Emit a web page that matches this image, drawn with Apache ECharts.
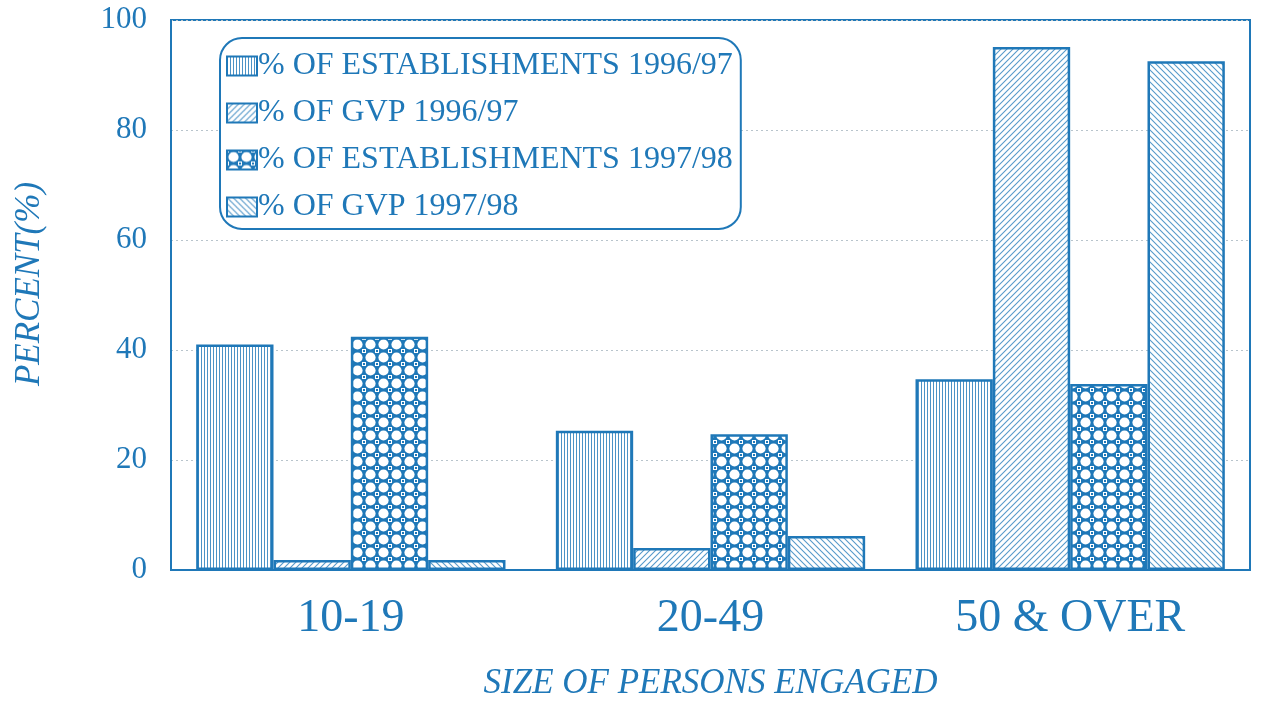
<!DOCTYPE html>
<html>
<head>
<meta charset="utf-8">
<script src="https://cdn.jsdelivr.net/npm/echarts@6/dist/echarts.min.js"></script>
<style>
  html, body { margin: 0; padding: 0; background: #fff; }
  #chart { width: 1265px; height: 701px; }
</style>
</head>
<body>
<div id="chart"></div>
<script>
// data
const categories = ['10-19', '20-49', '50 & OVER']
const estab9697 = [41, 25.3, 34.7]
const gvp9697 = [1.8, 4, 95.1]
const estab9798 = [42.4, 24.7, 33.8]
const gvp9798 = [1.8, 6.2, 92.5]
const seriesNames = [
  '% OF ESTABLISHMENTS 1996/97',
  '% OF GVP 1996/97',
  '% OF ESTABLISHMENTS 1997/98',
  '% OF GVP 1997/98'
]

const BLUE = '#1f78b8'
const FONT = '"Liberation Serif", "DejaVu Serif", serif'

// little canvas tiles for the fill patterns
const makeTile = (w, h, draw) => {
  const c = document.createElement('canvas')
  c.width = w
  c.height = h
  const ctx = c.getContext('2d')
  ctx.fillStyle = '#fff'
  ctx.fillRect(0, 0, w, h)
  draw(ctx, w, h)
  return c
}

const vLines = makeTile(3, 3, (ctx) => {
  ctx.fillStyle = 'rgba(31,120,184,0.8)'
  ctx.fillRect(0, 0, 1, 3)
})

const diag = (dir) => makeTile(6, 6, (ctx, w, h) => {
  ctx.strokeStyle = 'rgba(31,120,184,0.75)'
  ctx.lineWidth = 1.1
  ctx.beginPath()
  if (dir > 0) {
    ctx.moveTo(-1, h + 1); ctx.lineTo(w + 1, -1)
    ctx.moveTo(-1 - w, h + 1); ctx.lineTo(1, -1)
    ctx.moveTo(w - 1, h + 1); ctx.lineTo(2 * w + 1, -1)
  } else {
    ctx.moveTo(-1, -1); ctx.lineTo(w + 1, h + 1)
    ctx.moveTo(-1 - w, -1); ctx.lineTo(1, h + 1)
    ctx.moveTo(w - 1, -1); ctx.lineTo(2 * w + 1, h + 1)
  }
  ctx.stroke()
})

const dots = makeTile(13, 13, (ctx, w, h) => {
  ctx.fillStyle = BLUE
  ctx.fillRect(0, 0, w, h)
  ctx.fillStyle = '#fff'
  ctx.beginPath()
  ctx.arc(w / 2, h / 2, 5.1, 0, Math.PI * 2)
  ctx.fill()
  // small square at the corners, white ring with blue centre
  const corners = [[0, 0], [w, 0], [0, h], [w, h]]
  corners.forEach(([x, y]) => {
    ctx.fillStyle = '#fff'
    ctx.fillRect(x - 2, y - 2, 4, 4)
    ctx.fillStyle = BLUE
    ctx.fillRect(x - 1, y - 1, 2, 2)
  })
})

const patterns = [vLines, diag(1), dots, diag(-1)]
const values = [estab9697, gvp9697, estab9798, gvp9798]

const chart = echarts.init(document.getElementById('chart'))
chart.setOption({
  backgroundColor: '#fff',
  animation: false,
  textStyle: { fontFamily: FONT, color: BLUE },
  grid: {
    left: 171, right: 15, top: 20, bottom: 131,
    outerBoundsMode: 'none', containLabel: false,
    show: true, borderColor: BLUE, borderWidth: 2
  },
  legend: {
    orient: 'vertical',
    left: 220,
    top: 38,
    padding: [12, 8, 6, 6],
    itemGap: 15,
    itemWidth: 30,
    itemHeight: 19,
    icon: 'rect',
    backgroundColor: '#fff',
    borderColor: BLUE,
    borderWidth: 2,
    borderRadius: 22,
    textStyle: { fontFamily: FONT, fontSize: 32, color: BLUE, padding: [0, 0, 0, -4] },
    data: seriesNames
  },
  xAxis: {
    type: 'category',
    data: categories,
    name: 'SIZE OF PERSONS ENGAGED',
    nameLocation: 'middle',
    nameGap: 96,
    nameTextStyle: { fontFamily: FONT, fontStyle: 'italic', fontSize: 35, color: BLUE },
    axisLine: { lineStyle: { color: BLUE, width: 2 } },
    axisTick: { show: false },
    axisLabel: { fontFamily: FONT, fontSize: 46, color: BLUE, margin: 26 }
  },
  yAxis: {
    type: 'value',
    min: 0,
    max: 100,
    interval: 20,
    name: 'PERCENT(%)',
    nameLocation: 'middle',
    nameGap: 124,
    nameTextStyle: { fontFamily: FONT, fontStyle: 'italic', fontSize: 35, color: BLUE, padding: [0, 0, 0, 22] },
    axisLine: { show: true, lineStyle: { color: BLUE, width: 2 } },
    axisTick: { show: false },
    axisLabel: { fontFamily: FONT, fontSize: 31, color: BLUE, margin: 24 },
    splitLine: { lineStyle: { color: '#b8c4cc', type: [2, 3], width: 1 } }
  },
  series: seriesNames.map((name, i) => ({
    name,
    type: 'bar',
    data: values[i],
    barGap: '0%',
    barCategoryGap: '14%',
    itemStyle: {
      color: { image: patterns[i], repeat: 'repeat' },
      borderColor: BLUE,
      borderWidth: 2.5
    }
  }))
})
</script>
</body>
</html>
